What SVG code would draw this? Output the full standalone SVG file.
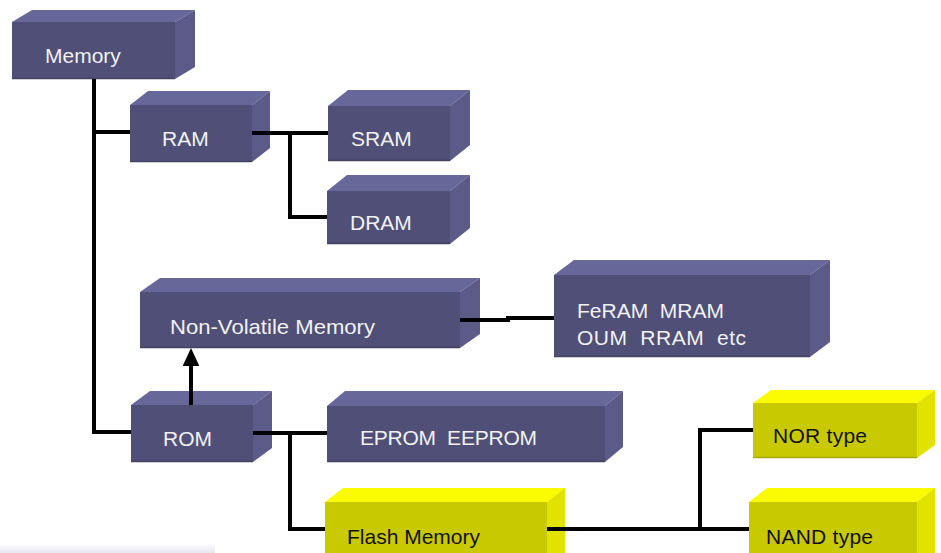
<svg xmlns="http://www.w3.org/2000/svg" width="941" height="553" viewBox="0 0 941 553">
<defs>
<style>
.pf{fill:#504F77}.pt{fill:#67679A}.ps{fill:#5B5A88}
.yf{fill:#C9C900}.yt{fill:#FAFA00}.ys{fill:#E2E200}
.eb{stroke:#43425F;stroke-width:1.5}
.yb{stroke:#A8A800;stroke-width:1.5}
text{font-family:"Liberation Sans","Noto Sans CJK JP",sans-serif;font-size:21px;white-space:pre}
.tw{fill:#F2F2F2}.tk{fill:#111111}
.c{fill:none;stroke:#000;stroke-width:4}
</style>
<marker id="ah" markerWidth="4.5" markerHeight="4.2" refX="0" refY="2.1" orient="auto" markerUnits="strokeWidth">
<path d="M0,0 L4.5,2.1 L0,4.2 z" fill="#000"/>
</marker>
<linearGradient id="fade" x1="0" y1="0" x2="0" y2="1">
<stop offset="0" stop-color="#ffffff"/>
<stop offset="1" stop-color="#E6E6F2"/>
</linearGradient>
</defs>
<rect width="941" height="553" fill="#fff"/>
<rect x="0" y="543" width="215" height="10" fill="url(#fade)"/>

<g id="memory">
<polygon class="pt" points="12,22 32,10 195,10 175,22"/>
<polygon class="ps" points="175,22 195,10 195,67 175,79"/>
<rect class="pf" x="12" y="22" width="163" height="57"/>
<line class="eb" x1="12" y1="78.5" x2="175" y2="78.5"/>
<text class="tw" x="45" y="63">Memory</text>
</g>

<g id="ram">
<polygon class="pt" points="130,105 148,91 270,91 252,105"/>
<polygon class="ps" points="252,105 270,91 270,148 252,162"/>
<rect class="pf" x="130" y="105" width="122" height="57"/>
<line class="eb" x1="130" y1="161.5" x2="252" y2="161.5"/>
<text class="tw" x="162" y="146">RAM</text>
</g>

<g id="sram">
<polygon class="pt" points="328,106 348,90 470,90 450,106"/>
<polygon class="ps" points="450,106 470,90 470,145 450,161"/>
<rect class="pf" x="328" y="106" width="122" height="55"/>
<line class="eb" x1="328" y1="160.5" x2="450" y2="160.5"/>
<text class="tw" x="351" y="146">SRAM</text>
</g>

<g id="dram">
<polygon class="pt" points="327,191 347,175 470,175 450,191"/>
<polygon class="ps" points="450,191 470,175 470,228 450,244"/>
<rect class="pf" x="327" y="191" width="123" height="53"/>
<line class="eb" x1="327" y1="243.5" x2="450" y2="243.5"/>
<text class="tw" x="350" y="230">DRAM</text>
</g>

<g id="nvm">
<polygon class="pt" points="140,292 160,278 480,278 460,292"/>
<polygon class="ps" points="460,292 480,278 480,334 460,348"/>
<rect class="pf" x="140" y="292" width="320" height="56"/>
<line class="eb" x1="140" y1="347.5" x2="460" y2="347.5"/>
<text class="tw" x="170" y="334" textLength="205" lengthAdjust="spacingAndGlyphs">Non-Volatile Memory</text>
</g>

<g id="feram">
<polygon class="pt" points="554,275 574,260 830,260 810,275"/>
<polygon class="ps" points="810,275 830,260 830,342 810,357"/>
<rect class="pf" x="554" y="275" width="256" height="82"/>
<line class="eb" x1="554" y1="356.5" x2="810" y2="356.5"/>
<text class="tw" x="577" y="318" textLength="147">FeRAM  MRAM</text>
<text class="tw" x="577" y="345" textLength="169">OUM  RRAM  etc</text>
</g>

<g id="rom">
<polygon class="pt" points="131,405 150,391 272,391 253,405"/>
<polygon class="ps" points="253,405 272,391 272,448 253,462"/>
<rect class="pf" x="131" y="405" width="122" height="57"/>
<line class="eb" x1="131" y1="461.5" x2="253" y2="461.5"/>
<text class="tw" x="163" y="446">ROM</text>
</g>

<g id="eprom">
<polygon class="pt" points="327,406 345,391 623,391 605,406"/>
<polygon class="ps" points="605,406 623,391 623,447 605,462"/>
<rect class="pf" x="327" y="406" width="278" height="56"/>
<line class="eb" x1="327" y1="461.5" x2="605" y2="461.5"/>
<text class="tw" x="360" y="445" textLength="177">EPROM  EEPROM</text>
</g>

<g id="flash">
<polygon class="yt" points="325,502 343,488 565,488 547,502"/>
<polygon class="ys" points="547,502 565,488 565,553 547,553"/>
<rect class="yf" x="325" y="502" width="222" height="51"/>
<text class="tk" x="347" y="544" textLength="133">Flash Memory</text>
</g>

<g id="nor">
<polygon class="yt" points="753,403 771,390 935,390 917,403"/>
<polygon class="ys" points="917,403 935,390 935,445 917,458"/>
<rect class="yf" x="753" y="403" width="164" height="55"/>
<line class="yb" x1="753" y1="457.5" x2="917" y2="457.5"/>
<text class="tk" x="773" y="443" textLength="94">NOR type</text>
</g>

<g id="nand">
<polygon class="yt" points="749,502 767,488 935,488 917,502"/>
<polygon class="ys" points="917,502 935,488 935,553 917,553"/>
<rect class="yf" x="749" y="502" width="168" height="51"/>
<text class="tk" x="766" y="544" textLength="107">NAND type</text>
</g>

<g id="connectors">
<path class="c" d="M94,79 V432 H131"/>
<path class="c" d="M94,132 H130"/>
<path class="c" d="M252,133 H328"/>
<path class="c" d="M290,133 V217 H327"/>
<path class="c" d="M460,320 H508 V318 H554"/>
<path class="c" d="M253,433 H327"/>
<path class="c" d="M290,433 V529 H325"/>
<path class="c" d="M547,529 H749"/>
<path class="c" d="M753,430 H700 V529"/>
<path class="c" d="M191,405 V366" marker-end="url(#ah)"/>
</g>
</svg>
